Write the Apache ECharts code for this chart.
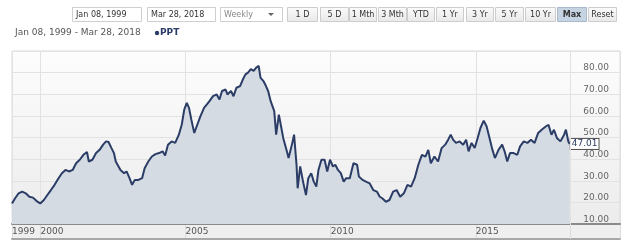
<!DOCTYPE html>
<html>
<head>
<meta charset="utf-8">
<script src="https://cdn.jsdelivr.net/npm/echarts@6/dist/echarts.min.js"></script>
<style>
html,body{margin:0;padding:0;background:#fff;}
#chart{width:624px;height:242px;}
</style>
</head>
<body>
<div id="chart"></div>
<script>
// ---- data (weekly PPT close) ----
const dates = [
'1999-01-08','1999-02-16','1999-04-01','1999-05-15','1999-06-30','1999-08-14','1999-09-29','1999-11-14','1999-12-29',
'2000-02-13','2000-03-28','2000-05-12','2000-06-27','2000-08-12','2000-09-27','2000-11-11','2000-12-26',
'2001-02-10','2001-03-25','2001-05-10','2001-06-25','2001-08-09','2001-09-01','2001-10-16','2001-12-01',
'2002-01-15','2002-02-28','2002-04-06','2002-05-07','2002-06-13','2002-07-14','2002-08-06','2002-08-29','2002-10-04','2002-11-19','2002-12-20',
'2003-01-26','2003-02-27','2003-04-03','2003-05-18','2003-07-03','2003-08-04','2003-09-19','2003-11-03','2003-12-18',
'2004-02-02','2004-03-17','2004-04-18','2004-05-24','2004-07-09','2004-08-23','2004-10-08','2004-11-14','2004-12-15',
'2005-01-16','2005-02-13','2005-03-14','2005-04-20','2005-05-21','2005-07-06','2005-08-21','2005-09-26','2005-10-28','2005-12-12',
'2006-01-27','2006-03-03','2006-04-04','2006-05-19','2006-06-11','2006-07-26','2006-08-27','2006-10-02','2006-11-17','2006-12-23',
'2007-01-24','2007-02-25','2007-04-01','2007-05-07','2007-06-08','2007-07-09','2007-08-01','2007-09-07','2007-10-09','2007-11-05','2007-12-07',
'2008-01-21','2008-02-14','2008-03-19','2008-04-20','2008-05-13','2008-06-28','2008-07-20','2008-09-04','2008-09-27','2008-10-28','2008-11-11','2008-12-13',
'2009-01-18','2009-02-24','2009-03-25','2009-05-01','2009-06-02','2009-07-04','2009-07-31','2009-09-06','2009-10-16','2009-11-18','2009-12-23',
'2010-01-29','2010-02-28','2010-04-02','2010-05-08','2010-06-13','2010-07-15','2010-08-29','2010-10-14','2010-11-29','2010-12-21',
'2011-02-05','2011-03-20','2011-05-05','2011-06-20','2011-08-04','2011-09-10','2011-10-11','2011-11-26',
'2012-01-10','2012-02-25','2012-04-09','2012-05-24','2012-07-09','2012-08-24','2012-10-08','2012-11-23',
'2013-01-08','2013-02-22','2013-04-07','2013-05-13','2013-06-14','2013-07-29','2013-09-13','2013-10-28','2013-12-12',
'2014-01-18','2014-02-19','2014-03-21','2014-04-26','2014-06-11','2014-07-26','2014-09-01','2014-10-02','2014-11-08','2014-12-18',
'2015-01-24','2015-02-28','2015-04-10','2015-05-16','2015-06-22','2015-07-23','2015-08-29','2015-10-13','2015-11-28','2015-12-29',
'2016-01-31','2016-03-06','2016-04-21','2016-06-06','2016-07-11','2016-08-26','2016-10-11','2016-11-25',
'2017-01-10','2017-02-24','2017-04-09','2017-06-03','2017-07-04','2017-08-10','2017-09-11','2017-10-17','2017-12-01',
'2018-01-16','2018-02-08','2018-03-10','2018-03-28'
];
const prices = [
19.5,21.9,24.2,25.0,24.2,22.6,22.2,20.6,19.5,
21.1,23.4,25.7,28.1,30.9,33.5,35.0,34.3,
35.0,38.1,39.7,42.0,43.3,38.9,39.7,42.8,
44.3,46.7,48.2,47.9,45.1,42.8,38.9,38.9,35.0,33.5,34.3,
31.2,28.1,30.4,30.4,31.2,35.8,38.9,41.2,42.3,
42.8,43.6,41.7,46.7,48.2,47.5,51.3,56.0,62.9,
66.0,63.7,58.3,52.1,55.2,59.8,63.7,65.3,66.8,69.1,
69.9,67.6,71.5,72.2,69.9,71.5,69.1,73.0,73.8,76.9,
79.2,80.0,81.6,80.8,82.3,83.1,77.7,76.1,73.8,71.5,66.8,
62.2,51.3,60.6,54.4,49.8,43.6,40.5,47.4,51.3,37.4,26.5,36.6,
29.6,23.4,31.2,33.5,29.6,27.3,35.0,39.7,39.7,34.3,39.7,
36.6,37.4,35.0,33.5,29.6,31.2,31.2,38.1,37.4,32.0,
30.4,29.6,28.8,25.7,25.0,22.6,21.9,20.3,
21.1,25.0,25.7,22.6,24.2,28.1,27.3,31.2,
37.4,42.0,41.2,44.3,38.1,41.2,38.9,45.1,46.7,
49.0,51.3,49.0,47.5,48.2,46.7,49.0,43.6,47.5,45.1,
49.8,54.4,57.8,55.2,49.8,45.1,40.5,44.3,46.7,43.6,
38.9,42.8,42.8,42.0,45.9,48.2,47.5,49.0,
47.5,52.1,53.6,55.2,55.9,51.3,53.6,49.8,48.2,
51.3,53.6,48.2,47.01
];
const seriesName = 'PPT';
const rangeFrom = 'Jan 08, 1999';
const rangeTo = 'Mar 28, 2018';
const yTicks = [10, 20, 30, 40, 50, 60, 70, 80, 90];
const axisEndDate = '2019-12-20';
const buttons = ['1 D','5 D','1 Mth','3 Mth','YTD','1 Yr','3 Yr','5 Yr','10 Yr','Max','Reset'];
const activeButton = 'Max';

// ---- helpers ----
function toYear(s) {
  const d = new Date(s + 'T00:00:00Z');
  const y = d.getUTCFullYear();
  const a = Date.UTC(y, 0, 1), b = Date.UTC(y + 1, 0, 1);
  return y + (d.getTime() - a) / (b - a);
}
const seriesData = dates.map((d, i) => [toYear(d), prices[i]]);
const xMin = toYear(dates[0]);
const xMax = toYear(axisEndDate);
const xLast = toYear(dates[dates.length - 1]);

const FONT = '"DejaVu Sans", Verdana, sans-serif';
const navy = '#2b3d66';
const gridColor = '#e2e2e2';

// ---- top controls ----
const btnX = [287, 320, 349, 378, 407, 436, 466, 495, 525, 557, 588];
const btnW = [30, 28, 27, 28, 27, 27, 27, 28, 30, 29, 28];
const graphic = [];
function box(x, w, text, color) {
  graphic.push({type: 'rect', shape: {x: x + 0.5, y: 7.5, width: w, height: 14},
    style: {fill: '#fff', stroke: '#cfcfcf', lineWidth: 1}});
  graphic.push({type: 'text', x: x + 4, y: 15,
    style: {text: text, font: '8px ' + FONT, fill: color, verticalAlign: 'middle', align: 'left'}});
}
box(72, 69, rangeFrom, '#333');
box(147, 68, rangeTo, '#333');
box(220, 62, 'Weekly', '#888');
graphic.push({type: 'polygon', shape: {points: [[268, 13], [274, 13], [271, 16]]}, style: {fill: '#666'}});
buttons.forEach((b, i) => {
  const act = b === activeButton;
  graphic.push({type: 'rect', shape: {x: btnX[i] + 0.5, y: 7.5, width: btnW[i], height: 14},
    style: {fill: act ? '#c5d3e2' : {type: 'linear', x: 0, y: 0, x2: 0, y2: 1,
      colorStops: [{offset: 0, color: '#fbfbfb'}, {offset: 1, color: '#e8e8e8'}]},
      stroke: act ? '#a9b9cb' : '#cdcdcd', lineWidth: 1}});
  graphic.push({type: 'text', x: btnX[i] + btnW[i] / 2 + 0.5, y: 15,
    style: {text: b, font: (act ? 'bold ' : '') + '8px ' + FONT, fill: '#333', align: 'center', verticalAlign: 'middle'}});
});
graphic.push({type: 'text', x: 15, y: 33,
  style: {text: rangeFrom + ' - ' + rangeTo, font: '9px ' + FONT, fill: '#555', verticalAlign: 'middle'}});
graphic.push({type: 'circle', shape: {cx: 157, cy: 33, r: 2.2}, style: {fill: navy}});
graphic.push({type: 'text', x: 160, y: 33,
  style: {text: seriesName, font: 'bold 9px ' + FONT, fill: navy, verticalAlign: 'middle'}});

const chart = echarts.init(document.getElementById('chart'), null, {renderer: 'canvas'});
chart.setOption({
  animation: false,
  backgroundColor: '#fff',
  graphic: graphic,
  grid: [
    {left: 12, right: 4, top: 51, height: 173, show: true,
      backgroundColor: {type: 'linear', x: 0, y: 0, x2: 0, y2: 1,
        colorStops: [{offset: 0, color: '#fdfdfd'}, {offset: 1, color: '#ececec'}]},
      borderColor: '#dadada', borderWidth: 1},
    {left: 12, right: 4, top: 224, height: 15, show: true, backgroundColor: '#efefef', borderWidth: 0}
  ],
  xAxis: [
    {type: 'value', gridIndex: 0, min: xMin, max: xMax, splitNumber: 4,
      axisLine: {show: true, onZero: false, lineStyle: {color: '#8a8a8a', width: 2}},
      axisTick: {show: false}, axisLabel: {show: false},
      splitLine: {show: true, lineStyle: {color: gridColor, width: 1}}},
    {type: 'value', gridIndex: 1, min: xMin, max: xMax, splitNumber: 4, position: 'bottom',
      axisLine: {show: true, onZero: false, lineStyle: {color: '#a8a8a8', width: 2}},
      axisTick: {show: false},
      splitLine: {show: true, lineStyle: {color: '#dcdcdc', width: 1}},
      axisLabel: {show: true, inside: true, margin: 7.5, align: 'left', verticalAlign: 'middle',
        showMinLabel: true, showMaxLabel: false,
        color: '#555', fontSize: 9, fontFamily: FONT,
        formatter: v => v > xLast ? '' : String(Math.floor(v + 1e-6))}}
  ],
  yAxis: [
    {type: 'value', gridIndex: 0, position: 'right', min: yTicks[0], max: yTicks[yTicks.length - 1], interval: 10,
      axisLine: {show: false}, axisTick: {show: false},
      splitLine: {show: true, lineStyle: {color: gridColor, width: 1}},
      axisLabel: {inside: true, margin: 11, verticalAlign: 'bottom', align: 'right',
        color: '#666', fontSize: 9, fontFamily: FONT,
        showMaxLabel: false,
        formatter: v => v >= yTicks[yTicks.length - 1] ? '' : v.toFixed(2)}},
    {type: 'value', gridIndex: 1, min: 0, max: 1, show: false}
  ],
  series: [
    {type: 'line', name: seriesName, xAxisIndex: 0, yAxisIndex: 0, data: seriesData,
      symbol: 'none', smooth: false,
      lineStyle: {color: navy, width: 2},
      areaStyle: {color: '#d5dbe3', opacity: 1},
      endLabel: {show: true, distance: 1, formatter: p => p.value[1].toFixed(2),
        color: navy, fontSize: 9, fontFamily: FONT, backgroundColor: '#fff',
        borderColor: '#555', borderWidth: 1, padding: [1, 1, 0, 1]},
      markLine: {silent: true, symbol: 'none', label: {show: false},
        lineStyle: {color: gridColor, type: 'solid', width: 1},
        data: [{xAxis: xLast}]},
      z: 3},
    {type: 'line', xAxisIndex: 1, yAxisIndex: 1, data: [[xLast, 0]], symbol: 'none',
      lineStyle: {opacity: 0},
      markLine: {silent: true, symbol: 'none', label: {show: false},
        lineStyle: {color: '#dcdcdc', type: 'solid', width: 1},
        data: [{xAxis: xLast}]}}
  ]
});
</script>
</body>
</html>
